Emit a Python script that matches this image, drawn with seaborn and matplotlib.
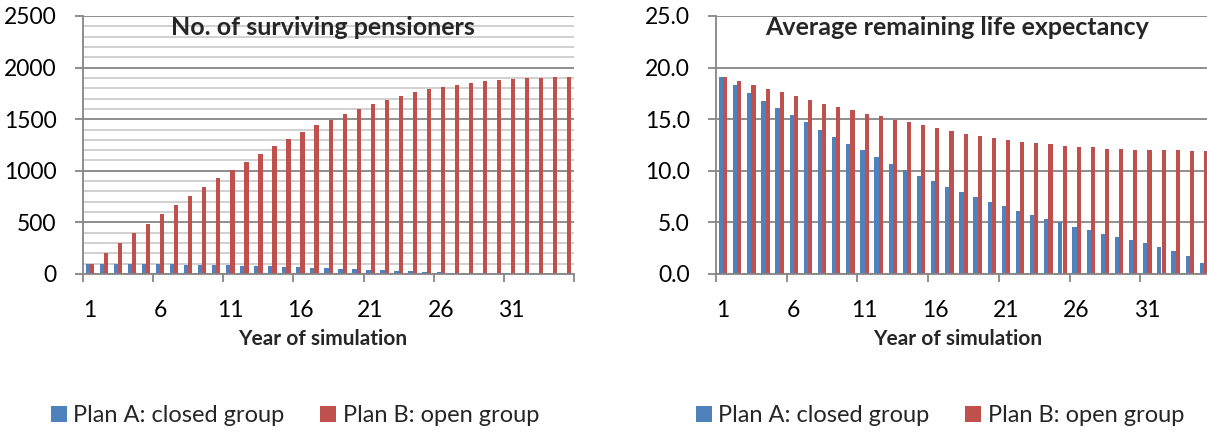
import numpy as np
import pandas as pd
import matplotlib
matplotlib.use("Agg")
import matplotlib.pyplot as plt
from matplotlib.ticker import MultipleLocator, FixedLocator, FuncFormatter
import seaborn as sns

# Simulation years 1..35
years = list(range(1, 36))

# Number of surviving pensioners
survivors_closed = [100, 100, 99, 98, 97, 95, 93, 91, 89, 87, 84, 81, 78, 74, 70,
                    66, 61, 57, 52, 47, 42, 37, 32, 27, 22, 18, 14, 10, 7, 4,
                    2.5, 1.5, 0.8, 0.4, 0.2]
survivors_open = [100, 200, 298, 394, 484, 581, 668, 755, 842, 929, 1010, 1087,
                  1165, 1242, 1310, 1374, 1439, 1497, 1548, 1603, 1648, 1690,
                  1726, 1761, 1790, 1816, 1835, 1855, 1868, 1881, 1890, 1897,
                  1903, 1906, 1910]

# Average remaining life expectancy
life_closed = [19.1, 18.3, 17.55, 16.8, 16.1, 15.4, 14.7, 14.0, 13.3, 12.6,
               12.0, 11.3, 10.7, 10.1, 9.5, 8.97, 8.4, 7.9, 7.45, 7.0, 6.55,
               6.1, 5.7, 5.35, 5.0, 4.6, 4.3, 3.9, 3.6, 3.3, 2.97, 2.6, 2.2,
               1.7, 1.03]
life_open = [19.1, 18.7, 18.3, 17.97, 17.6, 17.2, 16.9, 16.5, 16.2, 15.9,
             15.5, 15.3, 14.9, 14.7, 14.4, 14.1, 13.9, 13.6, 13.4, 13.2, 13.0,
             12.8, 12.7, 12.55, 12.4, 12.35, 12.26, 12.16, 12.1, 12.03, 12.0,
             11.97, 11.97, 11.94, 11.9]

plan_labels = ["Plan A: closed group", "Plan B: open group"]
titles = ["No. of surviving pensioners", "Average remaining life expectancy"]
xlabel = "Year of simulation"

BLUE = "#4F81BD"
RED = "#C0504D"
AXIS_GRAY = "#868686"
MINOR_GRAY = "#C8C8C8"

sns.set_theme(style="white")
plt.rcParams["font.family"] = ["Lato", "DejaVu Sans"]

fig = plt.figure(figsize=(12.07, 4.34), dpi=100)
W, H = 1207, 434


def make_axes(x0, x1, y_top, y_bot):
    return fig.add_axes([x0 / W, 1 - y_bot / H, (x1 - x0) / W, (y_bot - y_top) / H])


def long_frame(a, b):
    return pd.DataFrame({
        "year": [str(y) for y in years] * 2,
        "value": list(a) + list(b),
        "plan": [plan_labels[0]] * len(years) + [plan_labels[1]] * len(years),
    })


def style_axes(ax, title, ymax, ymajor, yminor, fmt):
    ax.set_xlim(-0.5, len(years) - 0.5)
    ax.set_ylim(0, ymax)
    ax.set_xlabel(xlabel, fontsize=15, fontweight="bold", labelpad=5)
    ax.xaxis.set_label_coords(0.488, -0.215)
    ax.set_ylabel("")
    for s in ["top", "right"]:
        ax.spines[s].set_visible(False)
    for s in ["left", "bottom"]:
        ax.spines[s].set_color(AXIS_GRAY)
        ax.spines[s].set_linewidth(1.3)
    # category labels every 5 years, tick marks on category boundaries
    ax.xaxis.set_major_locator(FixedLocator(list(range(0, len(years), 5))))
    ax.set_xticklabels([str(years[i]) for i in range(0, len(years), 5)])
    ax.xaxis.set_minor_locator(FixedLocator([-0.5 + 5 * k for k in range(8)]))
    ax.tick_params(axis="x", which="major", length=0, pad=19, labelsize=16.5,
                   labelcolor="black")
    ax.tick_params(axis="x", which="minor", length=6, width=1.3,
                   color=AXIS_GRAY, direction="out", bottom=True)
    ax.yaxis.set_major_locator(MultipleLocator(ymajor))
    ax.yaxis.set_major_formatter(fmt)
    ax.tick_params(axis="y", which="major", length=6, width=1.3, color=AXIS_GRAY,
                   direction="out", left=True, pad=13, labelsize=16.5,
                   labelcolor="black")
    ax.grid(axis="y", which="major", color=AXIS_GRAY, linewidth=1.3)
    if yminor:
        ax.yaxis.set_minor_locator(MultipleLocator(yminor))
        ax.tick_params(axis="y", which="minor", length=0)
        ax.grid(axis="y", which="minor", color=MINOR_GRAY, linewidth=1.2)
    ax.grid(axis="x", visible=False)
    ax.set_axisbelow(True)
    ax.text(0.488, 0.955, title, transform=ax.transAxes, ha="center", va="center",
            fontsize=18, fontweight="bold")


def add_legend(ax, x_center):
    handles, labels = ax.get_legend_handles_labels()
    if ax.get_legend() is not None:
        ax.get_legend().remove()
    fig.legend(handles, labels, loc="center",
               bbox_to_anchor=(x_center / W, 1 - 416 / H), ncol=2,
               frameon=False, fontsize=17, handlelength=0.68, handleheight=0.68,
               handletextpad=0.28, columnspacing=1.5)


panels = [
    (83, 574, survivors_closed, survivors_open, titles[0], 2500, 500, 100,
     lambda v, p: f"{v:.0f}", 295),
    (716, 1211, life_closed, life_open, titles[1], 25, 5, None,
     lambda v, p: f"{v:.1f}", 940),
]

for x0, x1, a, b, title, ymax, ymajor, yminor, fmt, leg_x in panels:
    ax = make_axes(x0, x1, 16, 274)
    sns.barplot(data=long_frame(a, b), x="year", y="value", hue="plan",
                hue_order=plan_labels, palette=[BLUE, RED], width=0.6,
                saturation=1, linewidth=0, edgecolor="none", ax=ax)
    style_axes(ax, title, ymax, ymajor, yminor, FuncFormatter(fmt))
    add_legend(ax, leg_x)

fig.savefig("out.png", dpi=100)
